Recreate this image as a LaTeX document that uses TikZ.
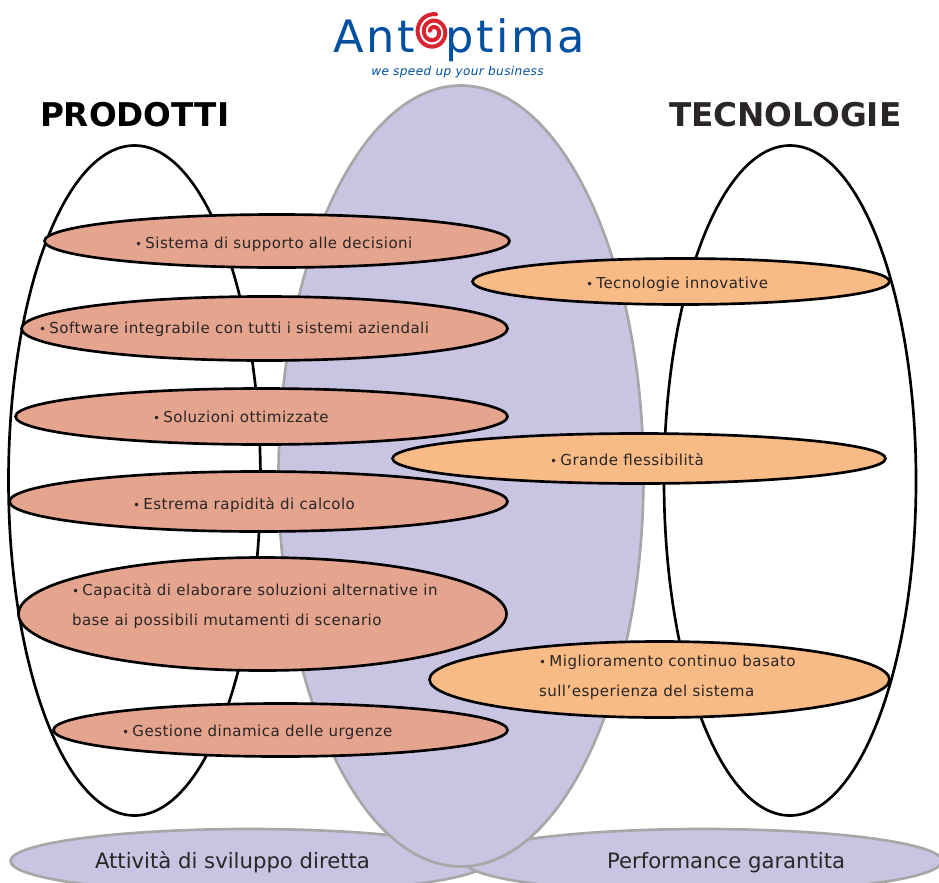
\documentclass[tikz,border=0pt]{standalone}
\usepackage{fontspec}
\setmainfont{DejaVu Sans}
\newfontfamily\labfont{DejaVu Sans}[LetterSpace=3]
\newfontfamily\logofont{DejaVu Sans}[LetterSpace=6]
\usetikzlibrary{positioning,shapes.geometric}
\definecolor{lilac}{HTML}{C8C5E2}
\definecolor{lilacline}{HTML}{A8A6A6}
\definecolor{salmon}{HTML}{E5A48D}
\definecolor{peach}{HTML}{F9BB85}
\definecolor{inkgray}{HTML}{2A2526}
\definecolor{logoblue}{HTML}{00509F}
\definecolor{logored}{HTML}{D9232E}
\tikzset{oval/.style 2 args={ellipse, inner sep=0, outer sep=0, minimum width=#1*0.75pt, minimum height=#2*0.75pt}}
\tikzset{ring/.style={draw=black, line width=2pt}}
\tikzset{lilacoval/.style={draw=lilacline, fill=lilac, line width=2pt}}
\tikzset{salmonoval/.style={draw=black, fill=salmon, line width=2pt}}
\tikzset{peachoval/.style={draw=black, fill=peach, line width=2pt}}
\tikzset{lab/.style={inner sep=0, outer sep=0, anchor=base west, text=inkgray, font=\labfont\fontsize{11.3}{22.5}\selectfont}}
\tikzset{foot/.style={inner sep=0, outer sep=0, anchor=base west, text=inkgray, font=\fontsize{15.9}{15.9}\selectfont}}
\tikzset{head/.style={inner sep=0, outer sep=0, anchor=base west, font=\fontsize{24.5}{24.5}\selectfont\bfseries}}
\tikzset{logo/.style={inner sep=0, outer sep=0, anchor=base west, text=logoblue, font=\logofont\fontsize{33.5}{33.5}\selectfont}}
\newcommand{\bul}{{\fontsize{9}{9}\selectfont\textbullet}\kern2.5pt}

\begin{document}
\begin{tikzpicture}[x=0.75pt,y=-0.75pt]
	\useasboundingbox (0,0) rectangle (939,882);
	\clip (0,0) rectangle (939,882);

	\node[oval={252}{670}, ring] (prodotti) at (134.5,480.5){};
	\node[oval={252}{670}, ring] (tecnologie) at (790,480.5){};

	\node[oval={478}{64}, lilacoval] (diretta) at (249.5,861){};
	\node[oval={478}{64}, lilacoval] (garantita) at (703,861){};
	\node[oval={365}{781}, lilacoval] (centro) at (461,476){};

	\node[oval={465}{53}, salmonoval] (supporto) at (277,241){};
	\node[oval={486}{64}, salmonoval] (software) at (264.5,328.5){};
	\node[oval={492}{56}, salmonoval] (soluzioni) at (261.5,416.5){};
	\node[oval={498}{60}, salmonoval] (rapidita) at (258.5,501.5){};
	\node[oval={488}{113}, salmonoval] (capacita) at (262.5,614){};
	\node[oval={454}{53}, salmonoval] (urgenze) at (280.5,730){};

	\node[oval={417}{46}, peachoval] (innovative) at (681,281.5){};
	\node[oval={493}{50}, peachoval] (flessibilita) at (639,458.5){};
	\node[oval={460}{76}, peachoval] (miglioramento) at (659.5,679.5){};

	\node[lab] (t1) at (135,248){\bul Sistema di supporto alle decisioni};
	\node[lab] (t2) at (39,333){\bul Software integrabile con tutti i sistemi aziendali};
	\node[lab] (t3) at (153,422){\bul Soluzioni ottimizzate};
	\node[lab] (t4) at (133,509){\bul Estrema rapidità di calcolo};
	\node[lab, anchor=west, align=left] (t5) at (72,606){\bul Capacità di elaborare soluzioni alternative in\\base ai possibili mutamenti di scenario};
	\node[lab] (t6) at (122,736){\bul Gestione dinamica delle urgenze};
	\node[lab] (ta) at (586,288){\bul Tecnologie innovative};
	\node[lab] (tb) at (550,465){\bul Grande flessibilità};
	\node[lab, anchor=west, align=left] (tc) at (539,677){\bul Miglioramento continuo basato\\sull’esperienza del sistema};

	\node[foot] (t7) at (95,868){Attività di sviluppo diretta};
	\node[foot] (t8) at (607,868){Performance garantita};

	\node[head, text=black] (h1) at (40,126){PRODOTTI};
	\node[head, text=inkgray] (h2) at (669,126){TECNOLOGIE};

	% logo
	\node[logo] (ant) at (333,52){Ant};
	\node[logo] (ptima) at (445,52){ptima};
	\node[inner sep=0, anchor=base west, text=logoblue, font=\labfont\fontsize{9.1}{9.1}\selectfont\itshape] (motto) at (371,75){we speed up your business};
	\draw[logored, line width=3pt, line cap=round, smooth] plot[domain=200:1000, samples=80] ({433+17*(\x/1000)*cos(\x)},{32+18*(\x/1000)*sin(\x)});
\end{tikzpicture}
\end{document}
